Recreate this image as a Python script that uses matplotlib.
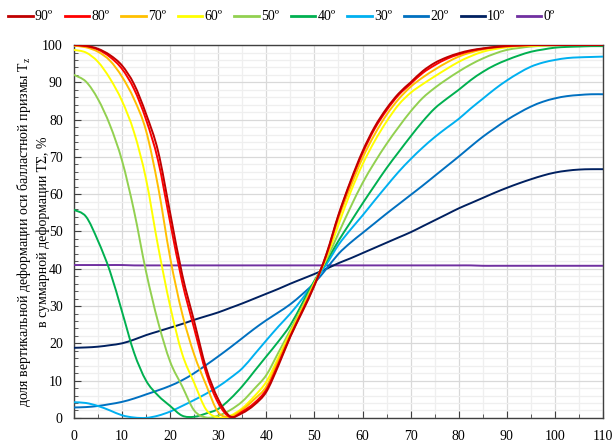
import matplotlib
matplotlib.use('Agg')
import matplotlib.pyplot as plt
from matplotlib.ticker import MultipleLocator
from matplotlib.path import Path
from matplotlib.patches import PathPatch
from matplotlib.lines import Line2D

plt.rcParams['font.family'] = ['Liberation Serif', 'DejaVu Serif']
plt.rcParams['mathtext.default'] = 'regular'

# угол сдвига, %
x = [0, 2.5, 5, 7.5, 10, 12.5, 15, 17.5, 20, 22.5, 25, 27.5, 30, 32.5, 35, 37.5,
     40, 42.5, 45, 47.5, 50, 52.5, 55, 57.5, 60, 62.5, 65, 67.5, 70, 72.5, 75, 77.5,
     80, 82.5, 85, 87.5, 90, 92.5, 95, 97.5, 100, 102.5, 105, 107.5, 110]

t90 = [100, 99.8, 99.0, 97.3, 94.5, 89.5, 81.5, 71.5, 55.0, 38.5, 25.9, 13.3, 5.0, 0.4, 1.3, 3.5,
       7.0, 14.0, 21.8, 28.5, 35.5, 44.0, 54.5, 63.5, 71.5, 78.0, 83.0, 87.0, 90.0, 93.0, 95.2, 96.7,
       97.8, 98.6, 99.1, 99.5, 99.8, 99.9, 100, 100, 100, 100, 100, 100, 100]
t80 = [100, 99.7, 98.8, 96.8, 93.6, 88.2, 80.0, 69.0, 52.5, 36.5, 24.0, 12.0, 4.0, 0.2, 1.7, 4.0,
       7.6, 14.5, 22.0, 28.8, 35.7, 43.8, 54.2, 63.2, 71.0, 77.5, 82.5, 86.6, 89.6, 92.5, 94.6, 96.3,
       97.5, 98.4, 99.0, 99.4, 99.7, 99.9, 100, 100, 100, 100, 100, 100, 100]
t70 = [99.8, 99.4, 98.2, 95.8, 91.5, 85.5, 77.0, 62.0, 43.0, 28.0, 17.0, 8.8, 1.5, 0.4, 2.2, 5.0,
       8.4, 15.4, 22.4, 29.1, 35.9, 43.4, 53.5, 62.0, 69.7, 76.0, 81.3, 85.5, 88.8, 91.3, 93.4, 95.3,
       96.9, 98.0, 98.8, 99.3, 99.6, 99.8, 99.9, 100, 100, 100, 100, 100, 100]
t60 = [98.7, 98.0, 95.5, 91.0, 85.0, 76.6, 64.0, 46.0, 30.0, 17.2, 9.4, 2.2, 0.1, 0.6, 2.6, 5.8,
       9.7, 16.2, 22.9, 29.4, 36.1, 43.0, 51.8, 60.5, 68.0, 74.2, 79.5, 84.0, 87.2, 89.5, 91.6, 93.6,
       95.5, 97.0, 98.2, 98.9, 99.4, 99.7, 99.8, 99.9, 100, 100, 100, 100, 100]
t50 = [92.0, 90.2, 85.5, 78.5, 69.0, 55.5, 39.2, 25.7, 15.1, 8.5, 2.0, 0.1, 0.6, 2.1, 4.4, 7.8,
       11.5, 17.5, 23.6, 29.9, 36.4, 42.5, 49.5, 56.5, 63.0, 68.5, 73.5, 78.0, 82.2, 85.8, 88.5, 90.8,
       92.9, 94.8, 96.4, 97.7, 98.7, 99.2, 99.6, 99.8, 99.9, 100, 100, 100, 100]
t40 = [55.8, 54.0, 47.5, 39.3, 28.5, 17.5, 10.0, 6.0, 3.2, 0.6, 0.3, 1.2, 2.4, 5.1, 8.5, 12.5,
       16.5, 20.5, 24.9, 30.8, 36.8, 42.0, 47.5, 52.5, 57.5, 62.3, 67.0, 71.3, 75.5, 79.5, 83.0, 85.6,
       88.0, 90.6, 92.8, 94.6, 96.0, 97.2, 98.2, 98.8, 99.3, 99.5, 99.6, 99.7, 99.7]
t30 = [4.2, 4.0, 3.2, 2.0, 0.7, 0.1, 0.0, 0.6, 1.7, 3.2, 4.8, 6.5, 8.4, 10.7, 13.3, 17.0,
       20.8, 24.5, 28.0, 32.0, 36.5, 41.2, 46.4, 50.5, 54.3, 58.3, 62.2, 66.0, 69.4, 72.5, 75.3, 77.8,
       80.2, 83.0, 85.6, 88.2, 90.5, 92.5, 94.2, 95.3, 96.0, 96.5, 96.7, 96.8, 96.9]
t20 = [2.8, 2.9, 3.2, 3.7, 4.3, 5.2, 6.3, 7.4, 8.6, 10.1, 12.0, 14.2, 16.5, 18.9, 21.4, 23.9,
       26.2, 28.3, 30.5, 33.2, 36.2, 40.0, 44.0, 47.0, 49.6, 52.2, 54.8, 57.3, 59.8, 62.3, 64.9, 67.5,
       70.1, 72.8, 75.4, 77.7, 79.9, 81.8, 83.5, 84.8, 85.7, 86.3, 86.6, 86.8, 86.8]
t10 = [18.8, 18.9, 19.1, 19.5, 20.0, 21.0, 22.2, 23.2, 24.2, 25.2, 26.3, 27.3, 28.3, 29.5, 30.7, 32.0,
       33.3, 34.6, 36.0, 37.3, 38.6, 40.0, 41.5, 42.8, 44.2, 45.6, 47.0, 48.4, 49.8, 51.4, 53.0, 54.6,
       56.2, 57.6, 59.0, 60.4, 61.7, 62.9, 64.0, 65.0, 65.8, 66.3, 66.6, 66.7, 66.7]
t0 = [41.0, 41.0, 41.0, 41.0, 41.0, 40.9, 40.9, 40.9, 40.9, 40.9, 40.9, 40.9, 40.9, 40.9, 40.9, 40.9,
      40.9, 40.9, 40.9, 40.9, 40.9, 40.9, 40.9, 40.9, 40.9, 40.9, 40.9, 40.9, 40.9, 40.9, 40.9, 40.9,
      40.9, 40.9, 40.8, 40.8, 40.8, 40.8, 40.8, 40.8, 40.8, 40.8, 40.8, 40.8, 40.8]

series = [t90, t80, t70, t60, t50, t40, t30, t20, t10, t0]
labels = ['90º', '80º', '70º', '60º', '50º', '40º', '30º', '20º', '10º', '0º']
colors = ['#C00000', '#FF0000', '#FFC000', '#FFFF00', '#92D050',
          '#00B050', '#00B0F0', '#0070C0', '#002060', '#7030A0']


def smooth_path(xs, ys):
    # сглаженная линия как в Excel: кубические Безье через все точки
    n = len(xs)
    verts = [(xs[0], ys[0])]
    codes = [Path.MOVETO]
    for i in range(n - 1):
        i0 = max(i - 1, 0)
        i3 = min(i + 2, n - 1)
        c1 = (xs[i] + (xs[i + 1] - xs[i0]) / 6, ys[i] + (ys[i + 1] - ys[i0]) / 6)
        c2 = (xs[i + 1] - (xs[i3] - xs[i]) / 6, ys[i + 1] - (ys[i3] - ys[i]) / 6)
        verts += [c1, c2, (xs[i + 1], ys[i + 1])]
        codes += [Path.CURVE4] * 3
    return Path(verts, codes)


fig = plt.figure(figsize=(6.16, 4.46), dpi=100)
ax = fig.add_axes([0.120, 0.063, 0.859, 0.836])

handles = []
for i in range(len(series)):
    ax.add_patch(PathPatch(smooth_path(x, series[i]), fill=False, edgecolor=colors[i],
                           lw=1.4, zorder=20 - i, joinstyle='round', capstyle='round'))
    handles.append(Line2D([], [], color=colors[i], lw=2.0))

ax.set_xlim(0, 110)
ax.set_ylim(0, 100)
ax.xaxis.set_major_locator(MultipleLocator(10))
ax.xaxis.set_minor_locator(MultipleLocator(5))
ax.yaxis.set_major_locator(MultipleLocator(10))
ax.yaxis.set_minor_locator(MultipleLocator(2))
ax.grid(which='major', color='#d9d9d9', lw=0.9)
ax.grid(which='minor', color='#efefef', lw=0.9)
ax.set_axisbelow(True)
ax.tick_params(which='both', direction='in', labelsize=10, color='#404040')
ax.tick_params(which='major', length=5)
ax.tick_params(axis='x', which='major', pad=9)
ax.tick_params(axis='y', which='major', pad=8)
ax.tick_params(which='minor', length=3)
for s in ax.spines.values():
    s.set_color('#404040')
    s.set_linewidth(1.0)

fig.text(0.053, 0.48,
         'доля вертикальной деформации оси балластной призмы $T_z$\n'
         'в суммарной деформации TΣ, %',
         rotation=90, ha='center', va='center', multialignment='center',
         fontsize=10, linespacing=1.35)

fig.legend(handles, labels, loc='center', bbox_to_anchor=(0.457, 0.962), ncol=10,
           frameon=False, fontsize=10, handlelength=1.75, handletextpad=0.15,
           columnspacing=0.87, borderaxespad=0)

fig.savefig('out.png', dpi=100)
